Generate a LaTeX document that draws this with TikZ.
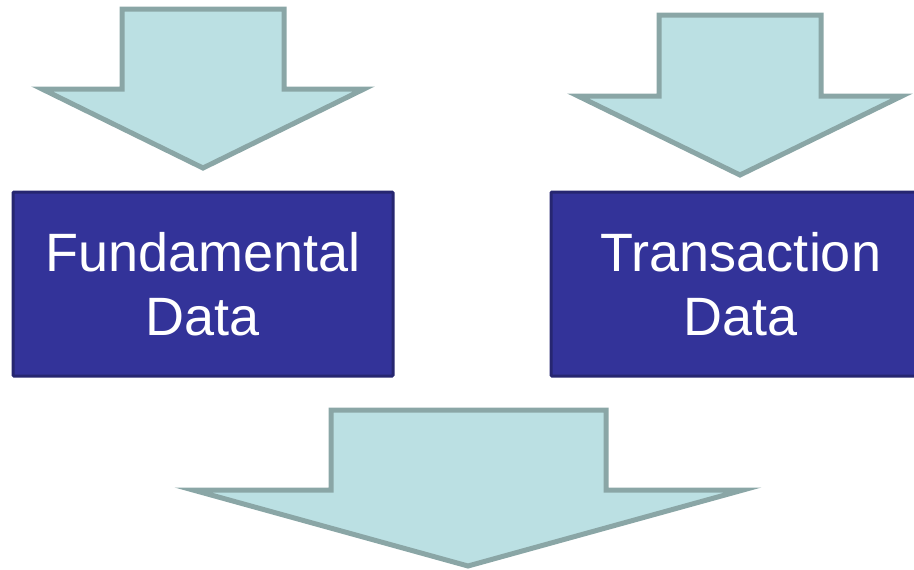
\documentclass[tikz,border=0pt]{standalone}
\usepackage{fontspec}
\setmainfont{Liberation Sans}
\definecolor{arrowfill}{HTML}{BBE0E3}
\definecolor{arrowline}{HTML}{8AA6A6}
\definecolor{boxfill}{HTML}{333399}
\definecolor{boxline}{HTML}{262670}
\tikzset{
  bigarrow/.style={fill=arrowfill,draw=arrowline,line width=5pt,line join=miter},
  databox/.style={draw=boxline,fill=boxfill,line width=3pt,rounded corners=1pt,
    minimum width=380pt,minimum height=184pt,text=white,align=center,
    font=\fontsize{54}{64}\selectfont,inner sep=0pt}
}
\begin{document}
\begin{tikzpicture}[x=1pt,y=-1pt]
\useasboundingbox (0,0) rectangle (914,570);

\draw[bigarrow] (122,9) -- (284,9) -- (284,89) -- (364,89) -- (203,168) -- (42,89) -- (122,89) -- cycle;
\draw[bigarrow] (659,15) -- (821,15) -- (821,96) -- (902,96) -- (740,175) -- (578,96) -- (659,96) -- cycle;

\node (fundamental) [databox] at (203,284) {Fundamental\\Data};
\node (transaction) [databox] at (741,284) {Transaction\\Data};

\draw[bigarrow] (331,410) -- (606,410) -- (606,490) -- (743,490) -- (468,566) -- (193,490) -- (331,490) -- cycle;

\end{tikzpicture}
\end{document}
